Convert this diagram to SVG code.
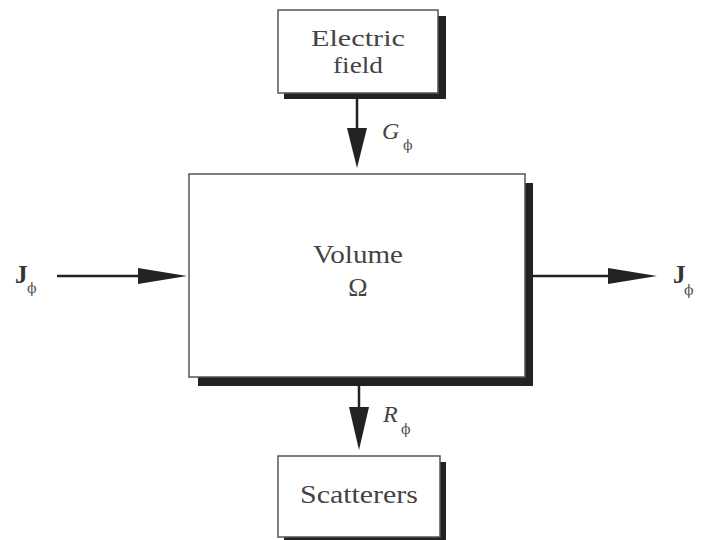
<svg xmlns="http://www.w3.org/2000/svg" width="701" height="540" viewBox="0 0 701 540">
<style>
.box{fill:#fff;stroke:#555;stroke-width:1.5}
.shadow{fill:#222}
.t{font-family:"Liberation Serif",serif;font-size:26px;fill:#444;text-anchor:middle}
.s{font-size:24px}
.lab{font-family:"Liberation Serif",serif;font-size:24px;font-style:italic;fill:#444}
.jb{font-family:"Liberation Serif",serif;font-size:25px;font-weight:bold;fill:#333}
.sub{font-family:"DejaVu Serif",serif;font-size:14px;fill:#555}
.line{stroke:#222;stroke-width:2.5;fill:none}
.head{fill:#222}
</style>
<rect width="701" height="540" fill="#fff"/>
<g id="electric-field">
<rect class="shadow" x="284" y="16" width="162" height="83"/>
<rect class="box" x="278" y="10" width="160" height="83"/>
<text class="t s" x="358" y="46" textLength="94" lengthAdjust="spacingAndGlyphs">Electric</text>
<text class="t s" x="358" y="73" textLength="50" lengthAdjust="spacingAndGlyphs">field</text>
</g>
<g id="volume">
<rect class="shadow" x="198" y="183" width="335" height="203"/>
<rect class="box" x="189" y="174" width="336" height="203"/>
<text class="t" x="358" y="263" textLength="90" lengthAdjust="spacingAndGlyphs">Volume</text>
<text class="t" x="358" y="296">Ω</text>
</g>
<g id="scatterers">
<rect class="shadow" x="284" y="462" width="162" height="78"/>
<rect class="box" x="278" y="456" width="162" height="81"/>
<text class="t" x="359" y="503" textLength="118" lengthAdjust="spacingAndGlyphs">Scatterers</text>
</g>
<g id="connectors">
<line class="line" x1="357" y1="99" x2="357" y2="130"/>
<polygon class="head" points="347,128 367,128 357,168"/>
<line class="line" x1="57" y1="276" x2="140" y2="276"/>
<polygon class="head" points="138,268 138,284 187,276"/>
<line class="line" x1="533" y1="276" x2="610" y2="276"/>
<polygon class="head" points="608,268 608,284 657,276"/>
<line class="line" x1="359" y1="386" x2="359" y2="410"/>
<polygon class="head" points="349,407 369,407 359,450"/>
</g>
<g id="labels">
<text class="jb" x="15" y="283">J</text>
<text class="sub" x="27" y="293">ϕ</text>
<text class="jb" x="673" y="283">J</text>
<text class="sub" x="684" y="295">ϕ</text>
<text class="lab" x="382" y="139">G</text>
<text class="sub" x="403" y="150">ϕ</text>
<text class="lab" x="383" y="422">R</text>
<text class="sub" x="401" y="434">ϕ</text>
</g>
</svg>
